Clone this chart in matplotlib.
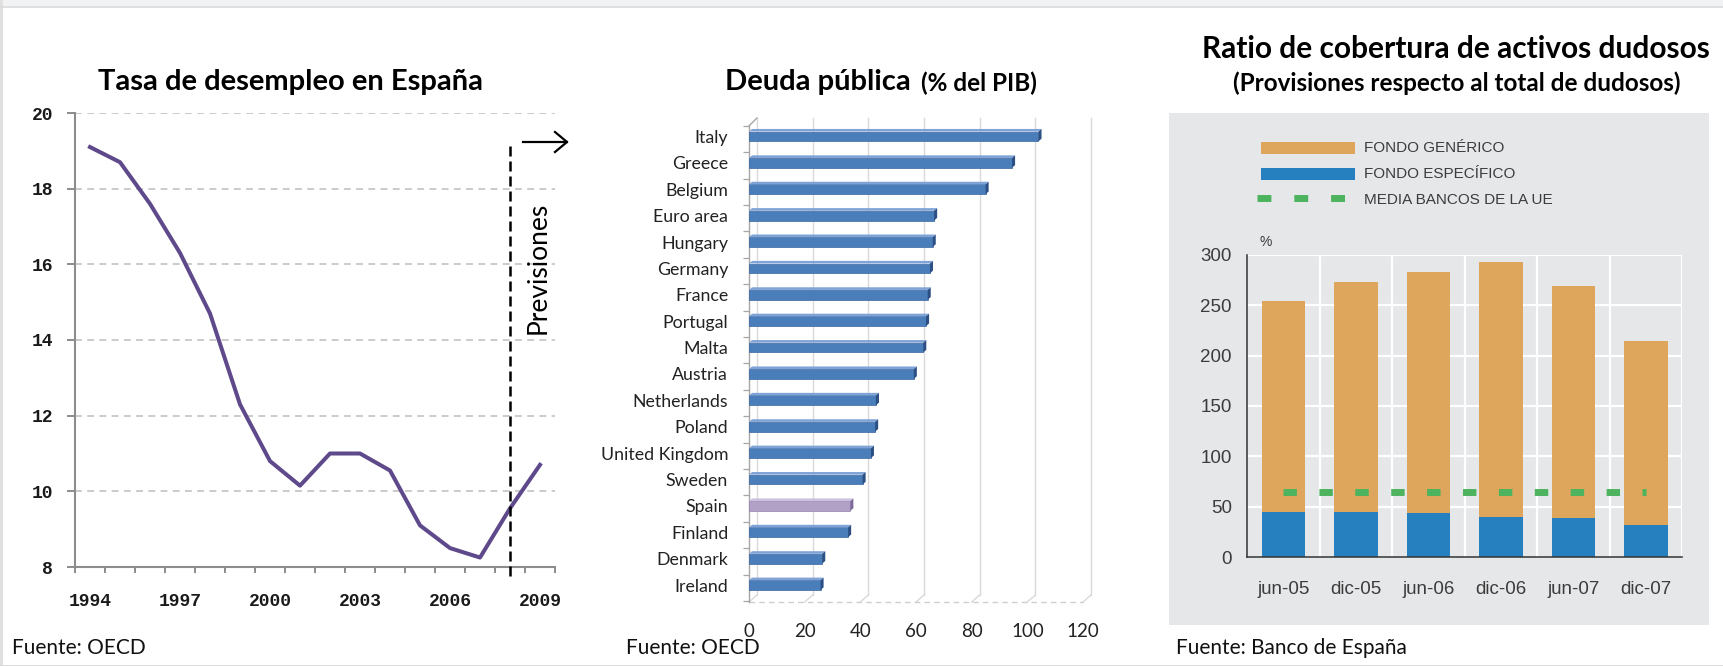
import matplotlib
matplotlib.use("Agg")
import matplotlib.pyplot as plt
from matplotlib.patches import Rectangle, Polygon
from matplotlib.lines import Line2D
import numpy as np

plt.rcParams['font.family'] = ['Lato', 'DejaVu Sans']

W, H = 1724, 666

# ---------------- data ----------------
# Tasa de desempleo en España (%)
years = [1994, 1995, 1996, 1997, 1998, 1999, 2000, 2001,
         2002, 2003, 2004, 2005, 2006, 2007, 2008, 2009]
unemployment = [19.1, 18.7, 17.6, 16.3, 14.7, 12.3, 10.8, 10.15,
                11.0, 11.0, 10.55, 9.1, 8.5, 8.25, 9.55, 10.7]
year_labels = [1994, 1997, 2000, 2003, 2006, 2009]
forecast_start = 2008

# Deuda pública (% del PIB)
countries = ["Italy", "Greece", "Belgium", "Euro area", "Hungary", "Germany",
             "France", "Portugal", "Malta", "Austria", "Netherlands", "Poland",
             "United Kingdom", "Sweden", "Spain", "Finland", "Denmark", "Ireland"]
debt = [104.0, 94.5, 85.0, 66.5, 66.0, 65.0, 64.2, 63.6, 62.6, 59.2,
        45.6, 45.3, 43.8, 40.8, 36.4, 35.6, 26.3, 25.7]
highlight = "Spain"
debt_ticks = [0, 20, 40, 60, 80, 100, 120]

# Ratio de cobertura de activos dudosos (%)
periods = ["jun-05", "dic-05", "jun-06", "dic-06", "jun-07", "dic-07"]
fondo_especifico = [45, 45, 44, 40, 39, 32]
fondo_generico = [209, 228, 239, 253, 230, 183]
media_ue = 65
coverage_ticks = [0, 50, 100, 150, 200, 250, 300]


# ---------------- helpers ----------------
def box(l, t, r, b):
    return [l / W, 1 - b / H, (r - l) / W, (b - t) / H]


def fx(x):
    return x / W


def fy(y):
    return 1 - y / H


fig = plt.figure(figsize=(W / 100, H / 100), dpi=100)
fig.patch.set_facecolor("white")
renderer = fig.canvas.get_renderer()

# page frame
fig.add_artist(Rectangle((0, fy(6)), 1, 6 / H, transform=fig.transFigure,
                         facecolor="#F1F2F4", edgecolor="none"))
fig.add_artist(Line2D([0, 1], [fy(6.5), fy(6.5)], transform=fig.transFigure,
                      color="#DADADA", lw=1.2))
fig.add_artist(Rectangle((0, 0), 3 / W, 1, transform=fig.transFigure,
                         facecolor="#E0E0E0", edgecolor="none"))
fig.add_artist(Line2D([0, 1], [fy(665.5), fy(665.5)], transform=fig.transFigure,
                      color="#D6D6D6", lw=1.2))

# ================= unemployment line chart =================
mono = dict(family="Liberation Mono", weight="bold", fontsize=13, color="#1A1A1A")
ax1 = fig.add_axes(box(75, 113, 555, 567))
ax1.plot(years, unemployment, color="#5E4A8B", lw=2.9, zorder=3)
ax1.set_xlim(1993.5, 2009.5)
ax1.set_ylim(8, 20)
ax1.set_yticks(np.arange(8, 21, 2))
ax1.set_yticklabels([str(v) for v in range(8, 21, 2)], **mono)
ax1.set_xticks(year_labels)
ax1.set_xticklabels([str(y) for y in year_labels], **mono)
ax1.set_xticks(np.arange(1993.5, 2010, 1), minor=True)
ax1.tick_params(axis="x", which="major", length=0, pad=19)
ax1.tick_params(axis="x", which="minor", length=4.5, width=1.4, color="#8C8C8C")
ax1.tick_params(axis="y", length=5.8, width=1.4, color="#8C8C8C", pad=10)
for s in ("top", "right"):
    ax1.spines[s].set_visible(False)
for s in ("left", "bottom"):
    ax1.spines[s].set_color("#8C8C8C")
    ax1.spines[s].set_linewidth(1.5)
ax1.grid(axis="y", color="#BDBDBD", lw=1.1, linestyle=(0, (4.5, 3.5)))
ax1.set_axisbelow(True)

# forecast marker
ax1.plot([forecast_start, forecast_start], [7.75, 19.25], color="black",
         lw=1.8, linestyle=(0, (4, 2)), clip_on=False, zorder=4)
fig.text(fx(538), fy(268), "Previsiones", rotation=90, fontsize=19,
         ha="center", va="center", color="black")
fig.add_artist(Line2D([fx(523), fx(567)], [fy(142), fy(142)],
                      transform=fig.transFigure, color="black", lw=1.6))
fig.add_artist(Line2D([fx(555), fx(567), fx(555)], [fy(132), fy(142), fy(152)],
                      transform=fig.transFigure, color="black", lw=1.6))

fig.text(fx(291), fy(82), "Tasa de desempleo en España", fontsize=21,
         weight="bold", ha="center", va="center")

# ================= public debt bar chart =================
ax2 = fig.add_axes(box(749, 118, 1083, 602))
n = len(countries)
pos = np.arange(n)
y_top, y_bot = -0.70, 17.64
ax2.set_xlim(0, 120)
ax2.set_ylim(y_bot, y_top)
for s in ax2.spines.values():
    s.set_visible(False)

dxw, dyw = 2.87, 0.265      # back-wall depth (data units)
dxb, dyb = 1.1, 0.10        # bar depth
bh = 0.37                   # bar front-face height

# back wall grid + floor
for v in debt_ticks:
    ax2.plot([v + dxw, v + dxw], [y_top, y_bot - dyw], color="#D9D9D9", lw=1.0, zorder=0,
             clip_on=False)
    ax2.plot([v + dxw, v], [y_bot - dyw, y_bot], color="#D9D9D9", lw=1.0, zorder=0,
             clip_on=False)
ax2.plot([0, 120], [y_bot, y_bot], color="#CFCFCF", lw=1.0,
         linestyle=(0, (4, 3)), zorder=0, clip_on=False)
wall_top = -0.40
ax2.plot([0, 0], [wall_top, y_bot], color="#A6A6A6", lw=1.0, zorder=1, clip_on=False)
ax2.plot([0, dxw], [wall_top, y_top], color="#A6A6A6", lw=1.0, zorder=1, clip_on=False)

for i, (c, v) in enumerate(zip(countries, debt)):
    if c == highlight:
        front, top, side, edge = "#B2A1C7", "#CDBFE0", "#7E6B9B", "#9484AE"
    else:
        front, top, side, edge = "#4A7EBB", "#7FA3D6", "#2C5084", "#3A66A0"
    y0, y1 = i - bh / 2, i + bh / 2
    ax2.barh(i, v, height=bh, color=front, edgecolor=edge, lw=0.5, zorder=3)
    ax2.add_patch(Polygon([(0, y0), (v, y0), (v + dxb, y0 - dyb), (dxb, y0 - dyb)],
                          closed=True, facecolor=top, edgecolor="none", zorder=3))
    ax2.add_patch(Polygon([(v, y0), (v, y1), (v + dxb, y1 - dyb), (v + dxb, y0 - dyb)],
                          closed=True, facecolor=side, edgecolor="none", zorder=3))

ax2.set_yticks(pos)
ax2.set_yticklabels(countries, fontsize=12.8, color="#222222")
ax2.set_yticks(np.arange(wall_top, y_bot + 0.05, 1), minor=True)
ax2.tick_params(axis="y", which="major", length=0, pad=15)
ax2.tick_params(axis="y", which="minor", length=4.3, width=0.9, color="#A6A6A6")
ax2.set_xticks(debt_ticks)
ax2.set_xticklabels([str(t) for t in debt_ticks], fontsize=13.5, color="#222222")
ax2.tick_params(axis="x", length=0, pad=15)

t_main = fig.text(fx(725), fy(82), "Deuda pública", fontsize=21, weight="bold",
                  ha="left", va="center")
bb = t_main.get_window_extent(renderer)
fig.text((bb.x1 + 10) / W, fy(83), "(% del PIB)", fontsize=17.5, weight="bold",
         ha="left", va="center")

# ================= coverage ratio stacked bars =================
panel_col = "#E6E7E9"
fig.add_artist(Rectangle((fx(1169), fy(625)), (1709 - 1169) / W, (625 - 113) / H,
                         transform=fig.transFigure, facecolor=panel_col,
                         edgecolor="none", zorder=0))
ax3 = fig.add_axes(box(1247, 255, 1682, 557))
ax3.set_facecolor(panel_col)
x = np.arange(len(periods))
ax3.set_xlim(-0.5, len(periods) - 0.5)
ax3.set_ylim(0, 300)
for t in coverage_ticks[1:]:
    ax3.axhline(t, color="white", lw=1.6, zorder=0.5)
for b in np.arange(0.5, len(periods), 1):
    ax3.axvline(b, color="white", lw=1.6, zorder=0.5)
ax3.bar(x, fondo_especifico, width=0.6, color="#2680C0", zorder=2)
ax3.bar(x, fondo_generico, bottom=fondo_especifico, width=0.6, color="#DDA65C",
        edgecolor="none", zorder=2)
ax3.plot(x, [media_ue] * len(x), color="#4DB35E", lw=5, linestyle=(0, (1.93, 3.24)),
         dash_capstyle="butt", zorder=3)
for s in ("top", "right"):
    ax3.spines[s].set_visible(False)
for s in ("left", "bottom"):
    ax3.spines[s].set_color("#333333")
    ax3.spines[s].set_linewidth(1.1)
ax3.set_yticks(coverage_ticks)
ax3.set_yticklabels([str(t) for t in coverage_ticks], family="Liberation Sans",
                    fontsize=13.5, color="#3C3C3C")
ax3.set_xticks(x)
ax3.set_xticklabels(periods, family="Liberation Sans", fontsize=13.5, color="#3C3C3C")
ax3.tick_params(axis="y", length=0, pad=11)
ax3.tick_params(axis="x", length=0, pad=17)
fig.text(fx(1260), fy(242), "%", family="Liberation Sans", fontsize=10,
         color="#3C3C3C", ha="left", va="center")

# legend
leg_font = dict(family="Liberation Sans", fontsize=11, color="#3C3C3C",
                ha="left", va="center")
fig.add_artist(Rectangle((fx(1261), fy(154)), 94 / W, 12 / H, transform=fig.transFigure,
                         facecolor="#DDA65C", edgecolor="none"))
fig.text(fx(1364), fy(148), "FONDO GENÉRICO", **leg_font)
fig.add_artist(Rectangle((fx(1261), fy(180)), 94 / W, 12 / H, transform=fig.transFigure,
                         facecolor="#2680C0", edgecolor="none"))
fig.text(fx(1364), fy(174), "FONDO ESPECÍFICO", **leg_font)
fig.add_artist(Line2D([fx(1257), fx(1350)], [fy(198), fy(198)], transform=fig.transFigure,
                      color="#4DB35E", lw=5, linestyle=(0, (2.0, 3.3)),
                      dash_capstyle="butt"))
fig.text(fx(1364), fy(200), "MEDIA BANCOS DE LA UE", **leg_font)

fig.text(fx(1456), fy(49), "Ratio de cobertura de activos dudosos", fontsize=21.5,
         weight="bold", ha="center", va="center")
fig.text(fx(1457), fy(83), "(Provisiones respecto al total de dudosos)", fontsize=17.5,
         weight="bold", ha="center", va="center")

# sources
src = dict(fontsize=15, color="#111111", ha="left", va="center")
fig.text(fx(12), fy(648), "Fuente: OECD", **src)
fig.text(fx(626), fy(648), "Fuente: OECD", **src)
fig.text(fx(1176), fy(648), "Fuente: Banco de España", **src)

fig.savefig("out.png", dpi=100)
